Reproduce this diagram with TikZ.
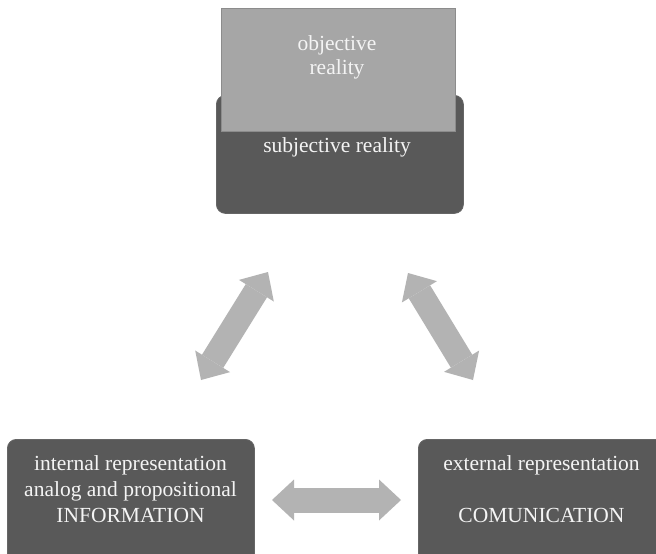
\documentclass[tikz,border=0pt]{standalone}
\usepackage{fontspec}
\setmainfont{Liberation Serif}
\usetikzlibrary{arrows.meta}
\definecolor{boxdark}{HTML}{595959}
\definecolor{boxlight}{HTML}{A6A6A6}
\definecolor{edgelight}{HTML}{8C8C8C}
\definecolor{arrowgray}{HTML}{B3B3B3}
\definecolor{txtcol}{HTML}{F4F4F4}
\begin{document}
\begin{tikzpicture}[x=1pt,y=-1pt,
  darkstyle/.style={fill=boxdark, draw=boxdark!92!white, line width=0.8pt, rounded corners=9pt, inner sep=0pt, anchor=north west},
  lightstyle/.style={fill=boxlight, draw=edgelight, line width=1.4pt, inner sep=0pt, anchor=north west},
  lbl/.style={text=txtcol, font=\fontsize{21.5}{26}\selectfont, inner sep=0pt, anchor=base},
  blockarrow/.style={draw=arrowgray, line width=25pt, {Triangle[line width=0pt, width=41pt, length=22pt]}-{Triangle[line width=0pt, width=41pt, length=22pt]}}
]
\useasboundingbox (0,0) rectangle (656,554);
\fill[white] (0,0) rectangle (656,554);

% top boxes
\node[darkstyle, minimum width=247pt, minimum height=118pt] (subj) at (216,95) {};
\node[lightstyle, minimum width=234pt, minimum height=123pt] (obj) at (221,8) {};
\node[lbl] (objA) at (337,50) {objective};
\node[lbl] (objB) at (337,74) {reality};
\node[lbl] (subjT) at (337,152) {subjective reality};

% bottom boxes
\node[darkstyle, minimum width=247pt, minimum height=140pt] (inter) at (7,439) {};
\node[darkstyle, minimum width=247pt, minimum height=140pt] (exter) at (418,439) {};
\node[lbl] (interA) at (130.5,470) {internal representation};
\node[lbl] (interB) at (130.5,496) {analog and propositional};
\node[lbl] (interC) at (130.5,522) {INFORMATION};
\node[lbl] (exterA) at (541.5,470) {external representation};
\node[lbl] (exterC) at (541.5,522) {COMUNICATION};

% arrows
\coordinate (la) at (201,380);
\coordinate (lb) at (268,272);
\coordinate (ra) at (408,273);
\coordinate (rb) at (473,380);
\coordinate (ha) at (272,500);
\coordinate (hb) at (401,500);
\draw[blockarrow] (la) -- (lb);
\draw[blockarrow] (ra) -- (rb);
\draw[blockarrow] (ha) -- (hb);
\end{tikzpicture}
\end{document}
